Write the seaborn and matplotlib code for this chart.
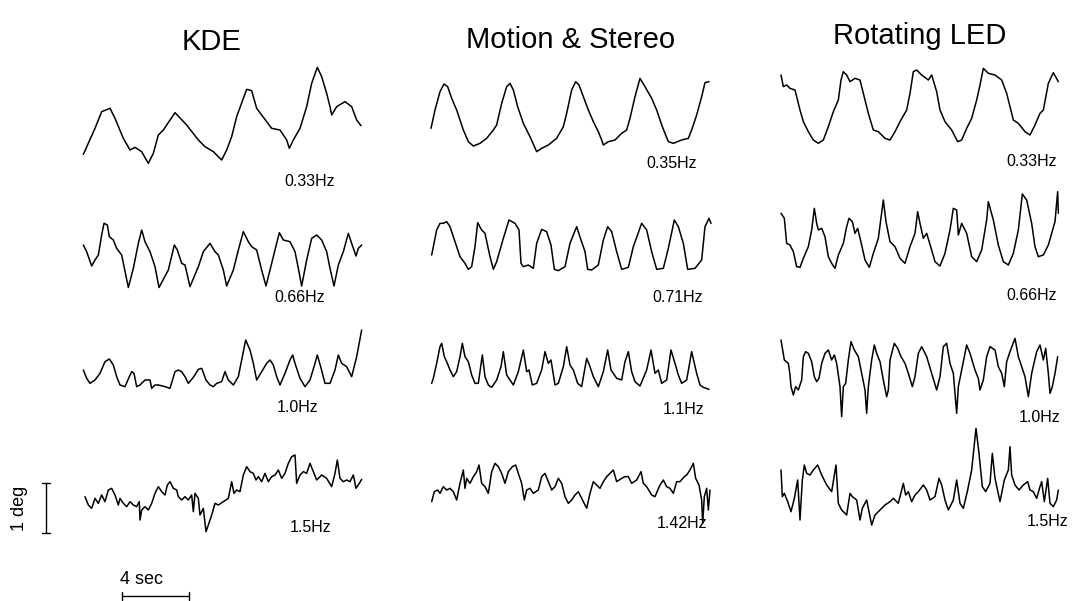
import matplotlib
matplotlib.use("Agg")
import matplotlib.pyplot as plt
import pandas as pd
import seaborn as sns

# ---------------------------------------------------------------
# Eye-position traces: time in seconds, position in arcmin
# ---------------------------------------------------------------
conditions = ["KDE", "Motion & Stereo", "Rotating LED"]

# KDE
kde_a_t = [.2, .9, 1.3, 1.8, 2.1, 2.6, 3.0, 3.3, 3.7, 4.1, 4.4, 4.7, 5.0, 5.7, 6.4, 7.1, 7.5, 8.0, 8.5, 8.8,
           9.1, 9.4, 10.0, 10.3, 10.6, 10.9, 11.5, 12.0, 12.4, 12.56, 12.8, 13.2, 13.6, 13.9, 14.24, 14.5,
           14.8, 15.0, 15.1, 15.4, 15.9, 16.3, 16.6, 16.86]
kde_a_v = [18.8, 50, 70, 74, 62, 38, 24, 27.2, 22, 8, 20, 42, 48, 68.8, 54, 36, 28, 22, 12, 24,
           40, 64, 96.8, 95.2, 74, 66, 50, 48, 36, 26, 36, 50, 76, 104, 123.2, 112,
           92, 76, 66, 76, 82, 76, 60, 53.2]
kde_b_t = [.2, .4, .7, .9, 1.1, 1.3, 1.44, 1.64, 1.76, 2.0, 2.2, 2.5, 2.9, 3.2, 3.5, 3.7, 3.9, 4.2, 4.5, 4.74,
           5.3, 5.66, 5.84, 6.1, 6.3, 6.6, 7.1, 7.4, 7.8, 8.1, 8.3, 8.6, 8.8, 9.2, 9.5, 9.8, 10.1, 10.3,
           10.6, 10.9, 11.16, 11.5, 11.96, 12.2, 12.6, 12.9, 13.1, 13.3, 13.6, 13.9, 14.2, 14.5, 14.8,
           15.0, 15.24, 15.5, 15.8, 16.1, 16.3, 16.56, 16.7, 16.9]
kde_b_v = [66, 58, 40.8, 48, 54, 78, 92, 90, 76, 72, 62, 54, 15, 38, 68, 84, 70, 58, 40, 15,
           36, 66, 60, 44, 42, 16, 40, 58, 68, 58, 54, 36, 16.8, 36, 60, 82, 70, 64,
           60, 36, 16.8, 44, 80.8, 72, 70, 58, 38, 16.8, 48, 74, 78, 72, 58,
           38, 16.8, 42, 58, 80, 68, 52.8, 62, 66]
kde_c_t = [.2, .4, .6, .9, 1.2, 1.5, 1.76, 2.0, 2.2, 2.4, 2.7, 2.96, 3.1, 3.24, 3.4, 3.6, 3.9, 4.2, 4.3, 4.5,
           4.7, 5.1, 5.4, 5.7, 5.9, 6.1, 6.3, 6.5, 6.8, 7.1, 7.3, 7.56, 7.8, 8.0, 8.2, 8.5, 8.7, 8.9,
           9.2, 9.5, 9.7, 9.94, 10.2, 10.4, 10.6, 10.9, 11.2, 11.4, 11.6, 11.8, 12.0, 12.3, 12.6, 12.76,
           12.9, 13.2, 13.5, 13.8, 14.1, 14.24, 14.44, 14.7, 15.0, 15.3, 15.5, 15.7, 16.0, 16.3, 16.6, 16.9]
kde_c_v = [72, 62, 56, 60, 68, 82, 85.2, 78, 64, 54, 52, 64, 70, 68, 52, 54, 60, 60, 50, 54,
           54, 52, 50, 70, 72, 70, 64, 56, 63.2, 72.8, 74, 60, 54, 52, 56, 58, 70, 60,
           54, 64, 84, 108, 96, 80, 60, 70, 80, 84, 78, 64, 54, 68, 84, 90,
           80, 62, 52, 60, 80, 90, 76, 56, 56, 72, 90, 80, 76, 64, 88, 120]
kde_d_t = [.3, .5, .7, .9, 1.1, 1.3, 1.5, 1.7, 1.9, 2.1, 2.3, 2.4, 2.6, 2.8, 3.0, 3.2, 3.4, 3.56, 3.6, 3.7,
           3.9, 4.1, 4.3, 4.5, 4.7, 4.9, 5.1, 5.24, 5.4, 5.6, 5.8, 5.9, 6.1, 6.3, 6.5, 6.7, 6.8, 6.9,
           7.1, 7.2, 7.4, 7.56, 7.7, 7.9, 8.1, 8.3, 8.6, 8.9, 9.1, 9.24, 9.4, 9.6, 9.8, 10.0, 10.2,
           10.4, 10.56, 10.7, 10.9, 11.1, 11.3, 11.5, 11.7, 11.9, 12.1, 12.3, 12.5, 12.7, 12.9, 13.0,
           13.2, 13.4, 13.6, 13.8, 14.0, 14.2, 14.5, 14.8, 15.1, 15.3, 15.44, 15.6, 15.8, 16.0, 16.2,
           16.4, 16.56, 16.76, 16.9]
kde_d_v = [52, 42, 38, 50, 44, 54, 46, 60, 62, 54, 42, 50, 44, 40, 46, 42, 40, 46, 24, 36,
           40, 36, 44, 56, 64, 58, 54, 66, 70, 62, 60, 52, 48, 52, 48, 54, 34, 56,
           50, 30, 38, 10, 18, 30, 44, 42, 46, 50, 70, 56, 60, 58, 78, 88, 82,
           80, 72, 76, 70, 80, 70, 76, 78, 84, 74, 80, 92, 100, 102, 68,
           78, 82, 80, 92, 82, 72, 78, 74, 64, 80, 96, 74, 70, 72, 70,
           78, 62, 68, 72.8]

# Motion & Stereo
mot_a_t = [.36, .6, .9, 1.14, 1.36, 1.6, 1.9, 2.1, 2.3, 2.6, 2.9, 3.3, 3.7, 4.1, 4.3, 4.6, 4.9, 5.1, 5.3,
           5.56, 5.9, 6.3, 6.7, 7.0, 7.4, 7.9, 8.3, 8.5, 8.8, 9.04, 9.24, 9.5, 9.8, 10.1, 10.4, 10.6,
           10.7, 11.0, 11.4, 11.8, 12.1, 12.3, 12.6, 12.9, 13.2, 13.6, 13.9, 14.24, 14.6, 14.9, 15.4,
           15.8, 16.0, 16.3, 16.6, 16.8, 17.04]
mot_a_v = [50, 72, 94, 103.2, 100, 86, 72, 60, 48, 34, 28.8, 32, 38, 48, 54, 80, 100, 104, 96,
           76, 56, 40, 22, 26, 30, 38, 52, 68, 96, 106, 102, 88, 72, 58, 46, 36,
           30, 34, 36, 44, 48, 62, 88, 110, 100, 86, 72, 52, 34, 32, 36,
           38, 48, 66, 88, 104.8, 106]
mot_b_t = [.4, .7, .9, 1.1, 1.3, 1.5, 1.8, 2.1, 2.4, 2.6, 2.8, 3.0, 3.16, 3.4, 3.6, 3.9, 4.1, 4.3, 4.7,
           5.04, 5.4, 5.64, 5.76, 5.9, 6.2, 6.5, 6.7, 7.0, 7.3, 7.56, 7.76, 8.0, 8.4, 8.7, 9.1, 9.36,
           9.6, 9.76, 10.0, 10.4, 10.7, 10.96, 11.2, 11.5, 11.8, 12.2, 12.5, 13.0, 13.3, 13.6, 13.9,
           14.3, 14.6, 14.96, 15.2, 15.5, 15.76, 16.2, 16.6, 16.8, 17.04, 17.16]
mot_b_v = [54, 84, 92, 92, 94, 88, 70, 52, 44, 36.8, 40, 64, 92.8, 84, 80, 52, 36.8, 46, 74,
           96, 92, 84, 44, 40, 42, 38, 68, 84.8, 82, 66, 36.8, 35.2, 40, 68, 88, 72,
           58, 36.8, 36, 42, 72, 88, 82, 58, 36.8, 39.2, 64, 92, 84, 58, 36.8,
           38, 62, 96, 88, 68, 36.8, 38, 48, 88, 98, 92]
mot_c_t = [.4, .5, .7, .9, 1.0, 1.16, 1.3, 1.5, 1.7, 1.9, 2.1, 2.24, 2.4, 2.6, 2.8, 3.0, 3.2, 3.44, 3.6,
           3.8, 4.0, 4.3, 4.56, 4.7, 4.9, 5.1, 5.3, 5.6, 5.9, 6.1, 6.24, 6.44, 6.7, 7.0, 7.2, 7.4,
           7.56, 7.8, 8.0, 8.3, 8.5, 8.7, 8.9, 9.16, 9.4, 9.7, 9.9, 10.1, 10.4, 10.7, 10.96, 11.16,
           11.5, 11.8, 12.0, 12.2, 12.4, 12.6, 12.9, 13.3, 13.56, 13.8, 14.0, 14.2, 14.5, 14.76,
           15.0, 15.2, 15.4, 15.7, 16.0, 16.3, 16.5, 16.7, 17.04]
mot_c_v = [56, 62, 80, 100, 104, 88, 82, 72, 64, 70, 88, 104, 88, 82, 66, 56, 56, 90, 64,
           54, 51.2, 60, 76, 94, 66, 60, 54, 70, 96, 70, 72, 54, 56, 72, 94, 80,
           84, 54, 56, 76, 100, 78, 72, 56, 52, 86, 76, 64, 52, 70, 96, 72,
           62, 60, 82, 94, 70, 58, 52.8, 72, 96, 68, 72, 56, 60, 96,
           80, 66, 56, 60, 94, 68, 54, 51.2, 48.8]
mot_d_t = [.4, .56, .76, .9, 1.1, 1.3, 1.5, 1.7, 1.9, 2.1, 2.3, 2.4, 2.5, 2.7, 2.9, 3.1, 3.24, 3.4, 3.6,
           3.8, 4.0, 4.2, 4.4, 4.6, 4.8, 5.0, 5.24, 5.44, 5.6, 5.8, 5.96, 6.1, 6.3, 6.5, 6.8, 7.0,
           7.2, 7.4, 7.6, 7.8, 8.0, 8.2, 8.4, 8.6, 8.8, 9.0, 9.2, 9.4, 9.7, 9.9, 10.1, 10.3, 10.5,
           10.7, 10.9, 11.1, 11.3, 11.5, 11.8, 12.0, 12.2, 12.4, 12.7, 12.96, 13.1, 13.3, 13.6, 13.8,
           14.1, 14.3, 14.5, 14.7, 14.9, 15.1, 15.3, 15.56, 15.7, 15.9, 16.1, 16.24, 16.44, 16.6,
           16.66, 16.76, 16.9, 17.0, 17.1]
mot_d_v = [46, 58, 60, 56, 64, 60, 62, 58, 48, 68, 84, 62, 74, 68, 76, 82, 90, 68, 64,
           56, 82, 92, 88, 80, 68, 82, 88, 90, 80, 68, 48, 60, 62, 56, 60, 76,
           80, 70, 60, 64, 74, 68, 52, 44, 48, 54, 58, 50, 38, 56, 70, 66, 62,
           70, 76, 80, 84, 70, 74, 76, 76, 68, 72, 82, 68, 64, 54, 52,
           66, 72, 64, 62, 56, 70, 70, 76, 78, 84, 92, 74, 66, 48,
           20, 52, 62, 36, 60]

# Rotating LED
rot_a_t = [.36, .5, .7, .9, 1.2, 1.3, 1.5, 1.7, 2.0, 2.3, 2.6, 2.9, 3.2, 3.5, 3.8, 3.96, 4.1, 4.3, 4.5,
           4.8, 5.1, 5.3, 5.6, 5.9, 6.2, 6.6, 6.9, 7.2, 7.5, 7.9, 8.1, 8.3, 8.5, 8.8, 9.2, 9.4, 9.7,
           9.9, 10.2, 10.6, 10.96, 11.2, 11.5, 11.8, 12.1, 12.3, 12.5, 12.8, 13.2, 13.6, 13.9, 14.1,
           14.3, 14.6, 15.0, 15.3, 15.6, 15.9, 16.1, 16.4, 16.7, 17.0]
rot_a_v = [114, 100, 102, 98, 96, 88, 72, 58, 46, 36, 32, 36, 52, 70, 84, 108, 118, 114, 106,
           110, 108, 92, 68, 48, 46, 38, 36, 46, 58, 72, 92, 118, 120, 114, 108, 114, 94,
           72, 58, 48, 34, 36, 50, 62, 84, 102, 122, 116, 114, 108, 92, 76,
           60, 56, 46, 42, 54, 68, 72, 104, 116.8, 106]
rot_b_t = [.36, .56, .7, .9, 1.1, 1.3, 1.5, 1.7, 2.0, 2.2, 2.36, 2.5, 2.6, 2.8, 3.0, 3.2, 3.4, 3.6, 3.8,
           4.1, 4.3, 4.44, 4.64, 4.8, 4.96, 5.2, 5.4, 5.66, 5.9, 6.2, 6.5, 6.66, 6.9, 7.2, 7.5, 7.8,
           8.1, 8.4, 8.56, 8.7, 8.9, 9.1, 9.4, 9.6, 9.9, 10.2, 10.5, 10.7, 10.9, 11.0, 11.2, 11.5,
           11.8, 12.1, 12.4, 12.7, 12.8, 13.1, 13.4, 13.7, 14.0, 14.3, 14.6, 14.84, 15.1, 15.4, 15.6,
           15.8, 16.1, 16.4, 16.8, 16.96, 17.0]
rot_b_v = [104, 98, 68, 66, 58, 40, 39.2, 50, 64, 84, 110, 92, 84, 86, 76, 52, 44, 38, 54,
           68, 88, 98, 94, 80, 86, 66, 48, 39.2, 56, 74, 120, 94, 70, 64, 50, 44,
           64, 80, 106, 92, 74, 80, 60, 46, 40.8, 56, 84, 110, 108, 78, 92, 80,
           52, 46, 60, 96, 118, 96, 66, 46, 42, 56, 84, 127.2, 120, 92, 64,
           52, 54, 66, 94, 130, 104]
rot_c_t = [.36, .56, .8, .9, .96, 1.1, 1.24, 1.4, 1.6, 1.7, 1.84, 2.0, 2.2, 2.36, 2.5, 2.64, 2.8, 3.0,
           3.2, 3.4, 3.56, 3.7, 3.9, 4.0, 4.1, 4.24, 4.4, 4.56, 4.76, 5.0, 5.24, 5.4, 5.5, 5.6, 5.8,
           5.96, 6.1, 6.3, 6.5, 6.7, 6.8, 6.9, 7.16, 7.36, 7.56, 7.8, 8.0, 8.24, 8.4, 8.6, 8.8, 9.1,
           9.4, 9.7, 9.9, 10.1, 10.3, 10.5, 10.7, 10.9, 11.0, 11.2, 11.5, 11.7, 12.0, 12.2, 12.3,
           12.5, 12.7, 12.9, 13.2, 13.4, 13.6, 13.76, 13.9, 14.1, 14.4, 14.6, 14.8, 15.0, 15.2,
           15.4, 15.7, 15.9, 16.1, 16.24, 16.4, 16.5, 16.64, 16.8, 16.96]
rot_c_v = [108, 84, 80, 66, 52, 42, 52, 48, 60, 88, 94, 92, 82, 64, 58, 62, 80, 92,
           96, 84, 90, 80, 52, 16, 52, 56, 84, 106, 96, 88, 64, 48, 20, 52, 84,
           102, 92, 82, 60, 40, 48, 84, 104, 98, 88, 80, 68, 52, 64, 92, 100, 88,
           68, 48, 64, 100, 104, 80, 68, 20, 52, 72, 102, 92, 72, 62, 48,
           60, 88, 100, 96, 76, 68, 52, 82, 94, 110, 88, 76, 64, 40,
           68, 94, 102, 84, 98, 68, 44, 52, 68, 88]
rot_d_t = [.36, .44, .56, .76, .96, 1.16, 1.36, 1.5, 1.64, 1.76, 1.9, 2.1, 2.3, 2.56, 2.8, 3.1, 3.4,
           3.66, 3.8, 4.0, 4.3, 4.5, 4.64, 4.9, 5.1, 5.24, 5.5, 5.8, 6.0, 6.3, 6.6, 6.9, 7.1, 7.4,
           7.7, 7.84, 8.0, 8.2, 8.4, 8.6, 8.9, 9.1, 9.3, 9.6, 9.84, 10.0, 10.2, 10.4, 10.7, 10.9,
           11.1, 11.3, 11.56, 11.8, 12.06, 12.24, 12.44, 12.64, 12.9, 13.04, 13.2, 13.5, 13.76, 14.0,
           14.1, 14.2, 14.4, 14.64, 14.9, 15.16, 15.3, 15.5, 15.7, 15.9, 16.0, 16.16, 16.36, 16.5,
           16.7, 16.9, 17.0]
rot_d_v = [84, 52, 56, 46, 34, 50, 72, 24, 72, 90, 80, 78, 84, 90, 78, 66, 58,
           90, 44, 36, 30, 56, 52, 48, 24, 38, 48, 18, 30, 36, 42, 46, 50, 44,
           68, 54, 58, 46, 54, 58, 66, 60, 48, 52, 74, 66, 48, 36, 48, 72,
           44, 38, 60, 84, 134, 104, 64, 58, 68, 104, 74, 46, 72, 84,
           112, 78, 66, 60, 66, 70, 60, 58, 50, 64, 70, 46, 74, 44,
           40, 48, 60]

# Stimulus frequency of each trace (rows: slow -> fast, columns: conditions)
freq_labels = [["0.33Hz", "0.35Hz", "0.33Hz"],
               ["0.66Hz", "0.71Hz", "0.66Hz"],
               ["1.0Hz", "1.1Hz", "1.0Hz"],
               ["1.5Hz", "1.42Hz", "1.5Hz"]]

traces = [[(kde_a_t, kde_a_v), (mot_a_t, mot_a_v), (rot_a_t, rot_a_v)],
          [(kde_b_t, kde_b_v), (mot_b_t, mot_b_v), (rot_b_t, rot_b_v)],
          [(kde_c_t, kde_c_v), (mot_c_t, mot_c_v), (rot_c_t, rot_c_v)],
          [(kde_d_t, kde_d_v), (mot_d_t, mot_d_v), (rot_d_t, rot_d_v)]]

# Scale bars
bar_deg = 1.0          # vertical bar, degrees
bar_sec = 4.0          # horizontal bar, seconds

# ---------------------------------------------------------------
# Layout (figure pixels)
# ---------------------------------------------------------------
FW, FH = 1072, 601
PX_PER_SEC = 50 / 3.0
PX_PER_ARCMIN = 1 / 1.2
col_x = [80, 425, 775]
col_w = [290, 295, 295]
row_y = [60, 180, 290, 420]
row_h = [110, 120, 140, 120]
title_pos = [(212, 42), (571, 40), (920, 36)]
label_pos = [[(310, 181), (672, 163), (1032, 162)],
             [(300, 298), (678, 297), (1032, 296)],
             [(298, 407), (684, 409), (1040, 418)],
             [(311, 528), (682, 523), (1048, 522)]]

sns.set_style("white")
plt.rcParams["font.family"] = ["Liberation Sans", "DejaVu Sans"]
plt.rcParams["text.color"] = "black"

fig = plt.figure(figsize=(FW / 100, FH / 100), dpi=100)


def fx(px):
    return px / FW


def fy(py):
    return 1 - py / FH


axes_grid = []
for r in range(4):
    row_axes = []
    for c in range(3):
        ox, oy, w, h = col_x[c], row_y[r], col_w[c], row_h[r]
        ax = fig.add_axes([fx(ox), fy(oy + h), w / FW, h / FH])
        ax.patch.set_alpha(0)
        t, v = traces[r][c]
        df = pd.DataFrame({"time": t, "pos": v})
        sns.lineplot(data=df, x="time", y="pos", ax=ax, sort=False, estimator=None,
                     color="black", linewidth=1.1)
        ax.set_xlim(0, w / PX_PER_SEC)
        ax.set_ylim(0, h / PX_PER_ARCMIN)
        ax.set_axis_off()
        row_axes.append(ax)
    axes_grid.append(row_axes)

for c, name in enumerate(conditions):
    x, y = title_pos[c]
    fig.text(fx(x), fy(y), name, ha="center", va="center", fontsize=21)

for r in range(4):
    for c in range(3):
        x, y = label_pos[r][c]
        fig.text(fx(x), fy(y), freq_labels[r][c], ha="center", va="center", fontsize=11.5)

# Scale bars drawn in the data units of the bottom-left trace
sb = axes_grid[3][0]
x_v = (46 - col_x[0]) / PX_PER_SEC
y0 = 9.0
y1 = y0 + bar_deg * 60
cap = 4 / PX_PER_SEC
sb.plot([x_v, x_v], [y0, y1], color="black", lw=1.0, clip_on=False)
sb.plot([x_v - cap, x_v + cap], [y0, y0], color="black", lw=1.0, clip_on=False)
sb.plot([x_v - cap, x_v + cap], [y1, y1], color="black", lw=1.0, clip_on=False)
fig.text(fx(20), fy(508), "1 deg", rotation=90, ha="center", va="center", fontsize=13)

x0 = (122 - col_x[0]) / PX_PER_SEC
x1 = x0 + bar_sec
yb = -67.2
tick = 4 * PX_PER_ARCMIN ** -1
sb.plot([x0, x1], [yb, yb], color="black", lw=1.0, clip_on=False)
sb.plot([x0, x0], [yb - tick, yb + tick], color="black", lw=1.0, clip_on=False)
sb.plot([x1, x1], [yb - tick, yb + tick], color="black", lw=1.0, clip_on=False)
fig.text(fx(142), fy(580), "4 sec", ha="center", va="center", fontsize=13)

fig.savefig("out.png", dpi=100)
